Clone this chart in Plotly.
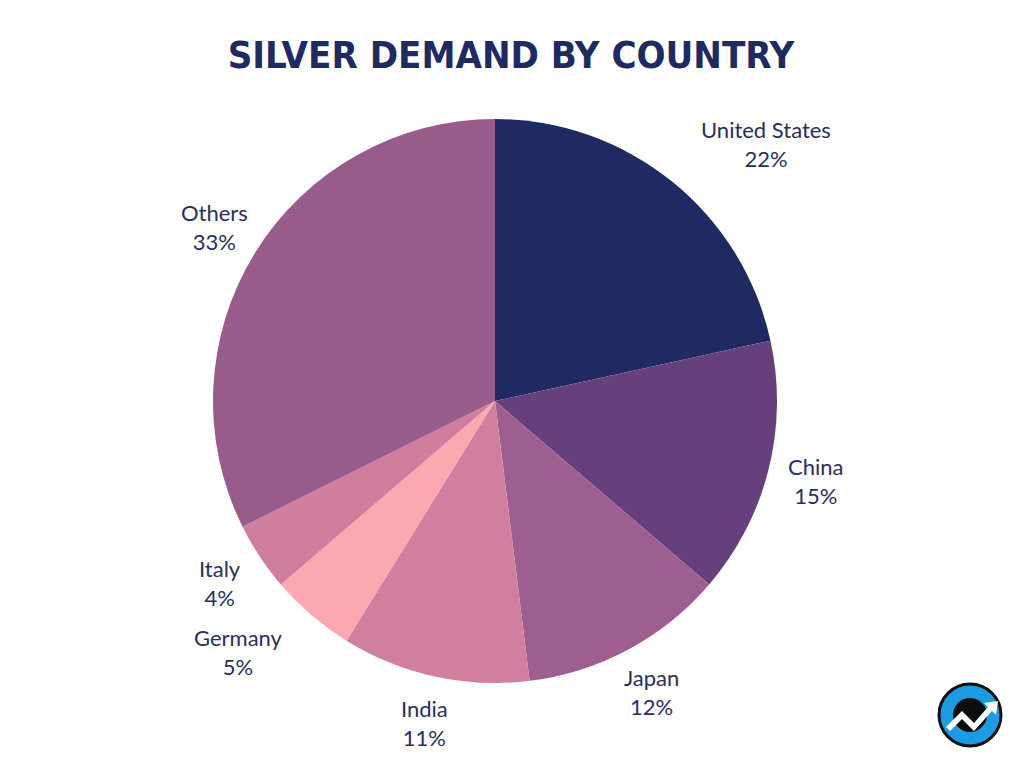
import math
import plotly.graph_objects as go

countries = ["United States", "China", "Japan", "India", "Germany", "Italy", "Others"]
shares = [22, 15, 12, 11, 5, 4, 33]
colors = ["#1f2a63", "#65407d", "#9e5f90", "#d07f9f", "#fca8b0", "#cf7e9e", "#985c8b"]

W, H = 1024, 768
OFF = 8  # page body margin
cx, cy, r = 495 - OFF, 401 - OFF, 282
LABEL_R = 330
# manual label nudges (pixels), as in the original layout
label_nudge = {"United States": (64, 0), "Germany": (-42, 0)}


def px(x):
    return x / W


def py(y):
    return 1 - y / H


fig = go.Figure(go.Pie(
    labels=countries,
    values=shares,
    sort=False,
    direction="clockwise",
    rotation=0,
    marker=dict(colors=colors, line=dict(width=0)),
    textinfo="none",
    hoverinfo="label+value",
    showlegend=False,
    domain=dict(x=[px(cx - r), px(cx + r)], y=[py(cy + r), py(cy - r)]),
))

# outside labels centred on the slice mid-angles
total = sum(shares)
annotations = []
cum = 0
for name, v in zip(countries, shares):
    mid = (cum + v / 2) / total * 2 * math.pi
    cum += v
    nx, ny = label_nudge.get(name, (0, 0))
    x = cx + LABEL_R * math.sin(mid) + nx
    y = cy - LABEL_R * math.cos(mid) + ny
    annotations.append(dict(
        x=px(x), y=py(y), xref="paper", yref="paper", showarrow=False,
        xanchor="center", yanchor="middle", align="center",
        text=f"{name}<br>{v}%",
        font=dict(family="Lato, Noto Sans, sans-serif", size=22, color="#2b2e5c"),
    ))

# logo (decorative)
lcx, lcy, lr = 970 - OFF, 715 - OFF, 31
shapes = [
    dict(type="circle", xref="paper", yref="paper", x0=px(lcx - lr), x1=px(lcx + lr),
         y0=py(lcy + lr), y1=py(lcy - lr), fillcolor="#1c9be3", line=dict(color="#111111", width=3)),
    dict(type="circle", xref="paper", yref="paper", x0=px(lcx - 17), x1=px(lcx + 17),
         y0=py(lcy + 17), y1=py(lcy - 17), fillcolor="#0d0d0d", line=dict(width=0)),
]
pts = [(-24, 12), (-8, -4), (4, 8), (18, -8), (14, -12), (28, -14), (26, 0), (22, -4), (4, 16), (-8, 4), (-20, 16)]
path = "M " + " L ".join(f"{px(lcx + a)},{py(lcy + b)}" for a, b in pts) + " Z"
shapes.append(dict(type="path", xref="paper", yref="paper", path=path, fillcolor="white", line=dict(width=0)))

fig.update_layout(
    width=W, height=H,
    margin=dict(l=0, r=0, t=0, b=0),
    paper_bgcolor="white", plot_bgcolor="white",
    title=dict(text="<b>SILVER DEMAND BY COUNTRY</b>", x=px(511 - OFF), xanchor="center",
               y=py(55 - OFF), yanchor="middle",
               font=dict(family="DejaVu Sans Condensed, sans-serif", size=38, color="#1f2a63")),
    shapes=shapes,
    annotations=annotations,
)

fig.write_html("out.html")
